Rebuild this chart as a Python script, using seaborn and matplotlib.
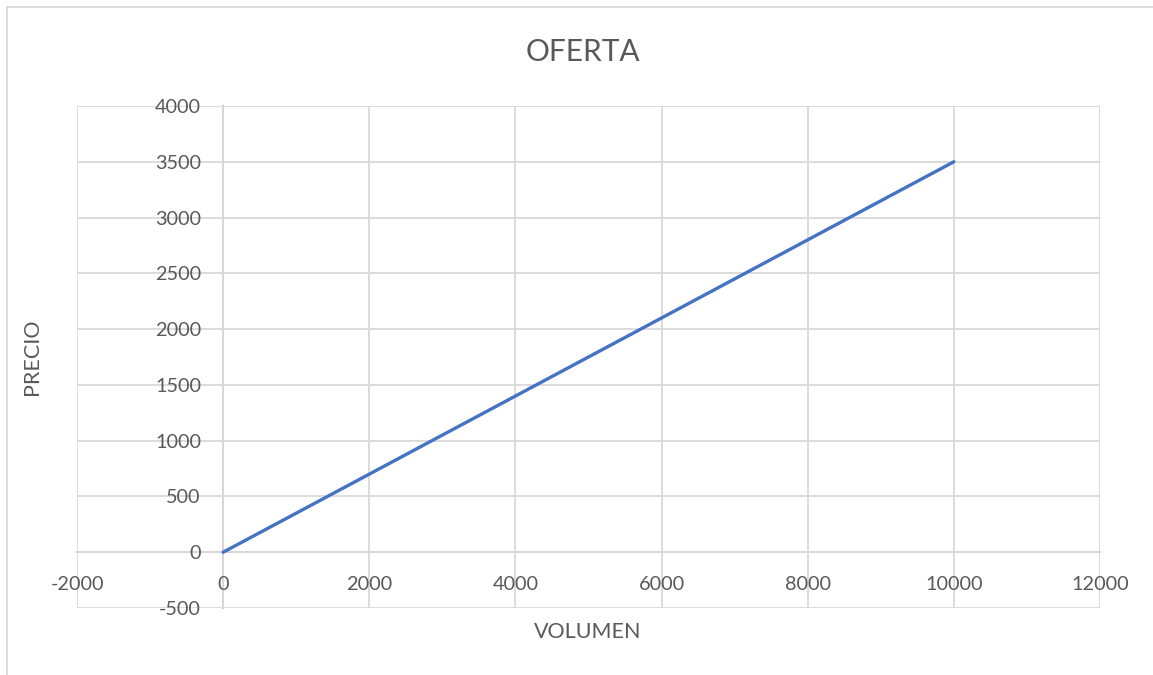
import matplotlib
matplotlib.use("Agg")
import matplotlib.pyplot as plt
from matplotlib.lines import Line2D
import seaborn as sns
import pandas as pd

# Supply curve data
volumen = [0, 2000, 4000, 6000, 8000, 10000]
precio = [0, 700, 1400, 2100, 2800, 3500]

x_ticks = [-2000, 0, 2000, 4000, 6000, 8000, 10000, 12000]
y_ticks = [-500, 0, 500, 1000, 1500, 2000, 2500, 3000, 3500, 4000]

sns.set_theme(style="white")
plt.rcParams["font.family"] = ["Lato", "DejaVu Sans"]
plt.rcParams["axes.unicode_minus"] = False

W, H = 1153, 675
fig = plt.figure(figsize=(W / 100, H / 100), dpi=100)
ax = fig.add_axes([77 / W, 1 - 608 / H, (1100 - 77) / W, (608 - 106) / H])

df = pd.DataFrame({"VOLUMEN": volumen, "PRECIO": precio})
sns.lineplot(data=df, x="VOLUMEN", y="PRECIO", ax=ax, color="#4472C4",
             linewidth=2.4, solid_capstyle="round")

text_color = "#595959"
grid_color = "#D9D9D9"

ax.set_xlim(-2000, 12000)
ax.set_ylim(-500, 4000)
ax.set_xticks(x_ticks)
ax.set_yticks(y_ticks)
ax.grid(True, color=grid_color, linewidth=1.3)
ax.set_axisbelow(True)

# Axes cross at the origin
for side in ("top", "right"):
    ax.spines[side].set_visible(False)
ax.spines["left"].set_position(("data", 0))
ax.spines["bottom"].set_position(("data", 0))
for side in ("left", "bottom"):
    ax.spines[side].set_color("#BFBFBF")
    ax.spines[side].set_linewidth(1.3)
    ax.spines[side].set_zorder(0.5)

ax.tick_params(axis="y", length=0, pad=16, labelsize=14.3, labelcolor=text_color)
ax.tick_params(axis="x", length=0, pad=17, labelsize=14.3, labelcolor=text_color)

ax.set_xlabel("")
ax.set_ylabel("")
fig.text(588 / W, 1 - 632 / H, "VOLUMEN", ha="center", va="center",
         fontsize=15.5, color=text_color)
fig.text(32 / W, 1 - 357 / H, "PRECIO", ha="center", va="center",
         rotation=90, fontsize=15.5, color=text_color)
fig.text(583 / W, 1 - 52 / H, "OFERTA", ha="center", va="center",
         fontsize=21.5, color=text_color)

# Chart area border
fig.add_artist(Line2D([7 / W, 7 / W], [0, 1 - 7 / H], transform=fig.transFigure,
                      color=grid_color, linewidth=1.3))
fig.add_artist(Line2D([7 / W, 1], [1 - 7 / H, 1 - 7 / H], transform=fig.transFigure,
                      color=grid_color, linewidth=1.3))

fig.savefig("out.png", dpi=100)
